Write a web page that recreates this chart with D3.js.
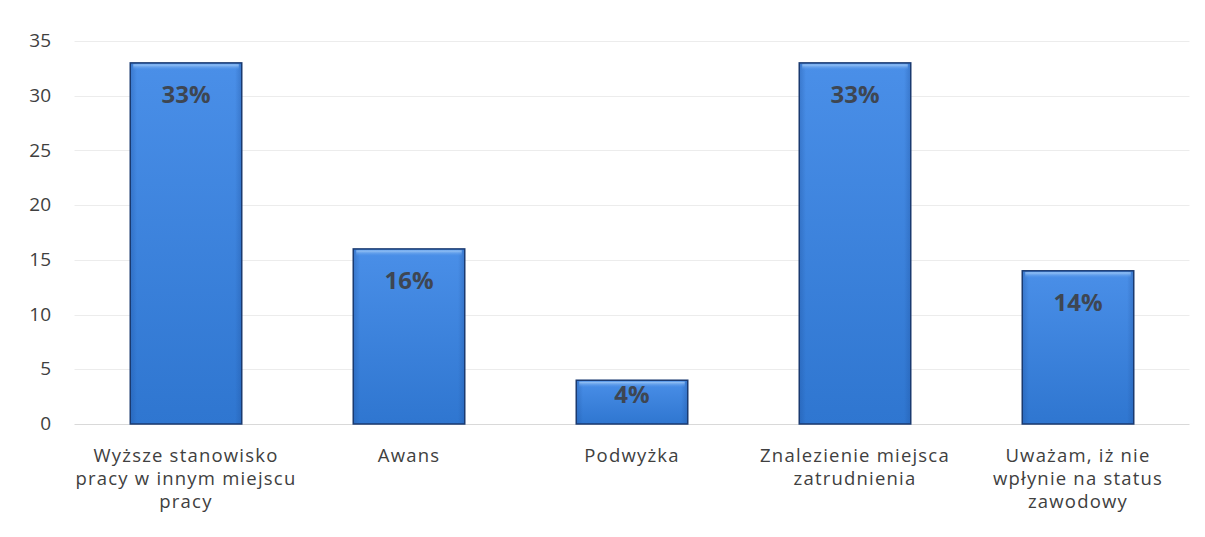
<!DOCTYPE html>
<html><head><meta charset="utf-8">
<script src="https://cdn.jsdelivr.net/npm/d3@7"></script>
<style>
body{margin:0;background:#fff;}
svg{display:block;}
</style></head><body>
<svg id="chart" width="1205" height="537"></svg>
<script>
const categories = [
  ["Wyższe stanowisko","pracy w innym miejscu","pracy"],
  ["Awans"],
  ["Podwyżka"],
  ["Znalezienie miejsca","zatrudnienia"],
  ["Uważam, iż nie","wpłynie na status","zawodowy"]
];
const values = [33, 16, 4, 33, 14];
const valueLabels = ["33%", "16%", "4%", "33%", "14%"];
const yTicks = [0, 5, 10, 15, 20, 25, 30, 35];

const svg = d3.select("#chart");
const mLeft = 74.5, mRight = 1189.5, mTop = 41, mBottom = 424;
const x = d3.scaleBand().domain(d3.range(values.length)).range([mLeft, mRight]).paddingInner(0.5).paddingOuter(0.25);
const y = d3.scaleLinear().domain([0, 35]).range([mBottom, mTop]);

const defs = svg.append("defs");
const g = defs.append("linearGradient").attr("id","barGrad").attr("x1",0).attr("x2",0).attr("y1",0).attr("y2",1);
g.append("stop").attr("offset","0%").attr("stop-color","#4a8fe8");
g.append("stop").attr("offset","100%").attr("stop-color","#2f76d0");
const gs = defs.append("linearGradient").attr("id","sideGrad").attr("x1",0).attr("x2",1).attr("y1",0).attr("y2",0);
gs.append("stop").attr("offset","0%").attr("stop-color","#1e4f9a").attr("stop-opacity",0.35);
gs.append("stop").attr("offset","6%").attr("stop-color","#1e4f9a").attr("stop-opacity",0);
gs.append("stop").attr("offset","94%").attr("stop-color","#1e4f9a").attr("stop-opacity",0);
gs.append("stop").attr("offset","100%").attr("stop-color","#1e4f9a").attr("stop-opacity",0.35);
const gh = defs.append("linearGradient").attr("id","hiGrad").attr("x1",0).attr("x2",0).attr("y1",0).attr("y2",1);
gh.append("stop").attr("offset","0%").attr("stop-color","#a9cff7").attr("stop-opacity",0.9);
gh.append("stop").attr("offset","100%").attr("stop-color","#4a8fe8").attr("stop-opacity",0);

// gridlines
svg.append("g").selectAll("line").data(yTicks).join("line")
  .attr("x1", mLeft).attr("x2", mRight)
  .attr("y1", d => Math.round(y(d)) + 0.5).attr("y2", d => Math.round(y(d)) + 0.5)
  .attr("stroke", d => d === 0 ? "#d9d9d9" : "#ececec").attr("stroke-width", 1);

// y axis labels
const yAxis = d3.axisLeft(y).tickValues(yTicks).tickSize(0).tickPadding(0);
const ya = svg.append("g").attr("transform", `translate(51,0)`).call(yAxis);
ya.select(".domain").remove();
ya.selectAll("text").attr("font-family","'Open Sans', sans-serif").attr("font-size",19).attr("fill","#404040").attr("dy","0.3em");

// bars
const bars = svg.append("g").selectAll("g").data(values).join("g");
bars.append("rect")
  .attr("x", (d,i) => x(i)).attr("width", x.bandwidth())
  .attr("y", d => y(d)).attr("height", d => y(0) - y(d))
  .attr("fill", "url(#barGrad)");
bars.append("rect")
  .attr("x", (d,i) => x(i)).attr("width", x.bandwidth())
  .attr("y", d => y(d)).attr("height", d => y(0) - y(d))
  .attr("fill", "url(#sideGrad)");
bars.append("rect")
  .attr("x", (d,i) => x(i) + 3).attr("width", x.bandwidth() - 6)
  .attr("y", d => y(d) + 1.5).attr("height", 6)
  .attr("fill", "url(#hiGrad)");
bars.append("rect")
  .attr("x", (d,i) => x(i)).attr("width", x.bandwidth())
  .attr("y", d => y(d)).attr("height", d => y(0) - y(d))
  .attr("fill", "none").attr("stroke", "#1a3a70").attr("stroke-width", 1.5);

// value labels
svg.append("g").selectAll("text").data(values).join("text")
  .attr("x", (d,i) => x(i) + x.bandwidth()/2)
  .attr("y", d => y(d) + Math.min(40, (y(0) - y(d)) / 2 + 1))
  .attr("text-anchor","middle")
  .attr("font-family","'Open Sans', sans-serif").attr("font-weight","bold").attr("font-size",24)
  .attr("fill","#3e4652")
  .text((d,i) => valueLabels[i]);

// category labels
const cat = svg.append("g").selectAll("text").data(categories).join("text")
  .attr("x", (d,i) => x(i) + x.bandwidth()/2)
  .attr("y", 462)
  .attr("text-anchor","middle")
  .attr("font-family","'Open Sans', sans-serif").attr("font-size",18.5)
  .attr("letter-spacing", 1.2)
  .attr("fill","#404040");
cat.selectAll("tspan").data(d => d).join("tspan")
  .attr("x", function(){ return this.parentNode.getAttribute("x"); })
  .attr("dy", (d,j) => j === 0 ? 0 : 23)
  .text(d => d);
</script>
</body></html>
